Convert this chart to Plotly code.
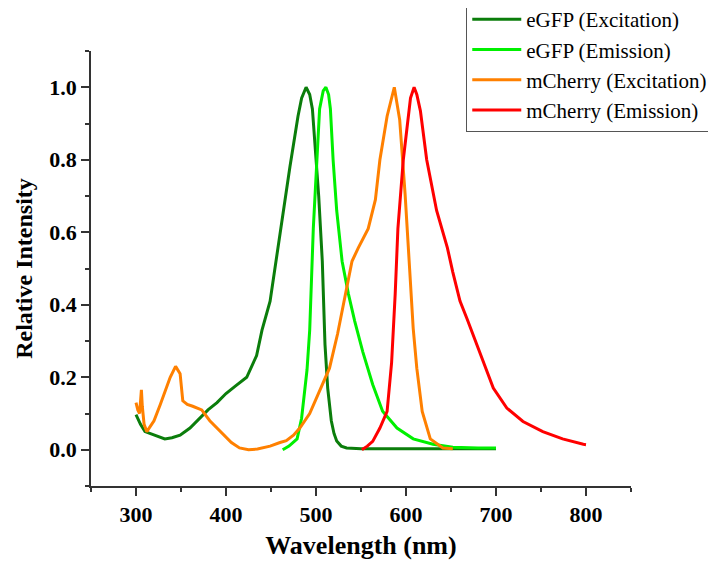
import plotly.graph_objects as go

# eGFP excitation
egfp_ex_wl = [300, 305, 310, 320, 332, 340, 349, 360, 371, 380, 390, 400, 410, 423, 434, 440, 449,
              460, 471, 480, 484, 489, 493, 496, 500, 503, 507, 510, 513, 517, 520, 523, 528, 534,
              550, 600, 650, 700]
egfp_ex_int = [0.097, 0.07, 0.05, 0.04, 0.03, 0.033, 0.04, 0.06, 0.087, 0.11, 0.13, 0.155, 0.175,
               0.2, 0.26, 0.33, 0.41, 0.60, 0.78, 0.92, 0.97, 1.0, 0.98, 0.94, 0.80, 0.70, 0.52,
               0.29, 0.17, 0.08, 0.045, 0.024, 0.01, 0.005, 0.003, 0.003, 0.003, 0.003]

# eGFP emission
egfp_em_wl = [463, 470, 479, 484, 490, 493, 497, 501, 504, 508, 511, 514, 516, 519, 523, 529, 536,
              543, 552, 563, 574, 590, 608, 630, 652, 680, 700]
egfp_em_int = [0.0, 0.01, 0.03, 0.087, 0.22, 0.33, 0.61, 0.80, 0.94, 0.99, 1.0, 0.98, 0.94, 0.80,
               0.66, 0.52, 0.43, 0.355, 0.27, 0.18, 0.106, 0.06, 0.03, 0.015, 0.007, 0.005, 0.005]

# mCherry excitation
mch_ex_wl = [300, 302, 304, 306, 307, 309, 312, 320, 327, 333, 338, 344, 349, 352, 357, 363, 373,
             382, 390, 397, 406, 415, 425, 435, 449, 460, 467, 475, 482, 493, 504, 515, 524, 534,
             540, 547, 558, 566, 571, 579, 587, 593, 599, 604, 608, 612, 618, 627, 641, 652]
mch_ex_int = [0.13, 0.11, 0.10, 0.165, 0.12, 0.07, 0.05, 0.08, 0.125, 0.165, 0.2, 0.23, 0.21, 0.135,
              0.125, 0.12, 0.11, 0.08, 0.06, 0.043, 0.02, 0.005, 0.0, 0.002, 0.01, 0.02, 0.025,
              0.04, 0.06, 0.1, 0.16, 0.225, 0.32, 0.45, 0.52, 0.557, 0.61, 0.69, 0.80, 0.92, 1.0,
              0.91, 0.705, 0.50, 0.335, 0.225, 0.106, 0.03, 0.005, 0.003]

# mCherry emission
mch_em_wl = [551, 557, 563, 571, 579, 584, 588, 591, 597, 602, 605, 609, 612, 616, 623, 634, 646,
             652, 660, 668, 674, 682, 686, 697, 712, 730, 752, 774, 797, 800]
mch_em_int = [0.0, 0.01, 0.023, 0.06, 0.106, 0.24, 0.43, 0.61, 0.80, 0.91, 0.97, 1.0, 0.98, 0.935,
              0.80, 0.66, 0.557, 0.49, 0.41, 0.36, 0.32, 0.27, 0.245, 0.17, 0.115, 0.078, 0.05,
              0.03, 0.015, 0.014]

series = [
    ("eGFP (Excitation)", egfp_ex_wl, egfp_ex_int, "#0b7d0b"),
    ("eGFP (Emission)", egfp_em_wl, egfp_em_int, "#00f000"),
    ("mCherry (Excitation)", mch_ex_wl, mch_ex_int, "#ff8000"),
    ("mCherry (Emission)", mch_em_wl, mch_em_int, "#ff0000"),
]

x_ticks = [300, 400, 500, 600, 700, 800]
y_ticks = [0.0, 0.2, 0.4, 0.6, 0.8, 1.0]
y_ticktext = ["0.0", "0.2", "0.4", "0.6", "0.8", "1.0"]

SERIF = "Liberation Serif, Times New Roman, serif"

fig = go.Figure()
for name, xs, ys, col in series:
    fig.add_trace(go.Scatter(x=xs, y=ys, mode="lines", name=name,
                             line=dict(color=col, width=3)))

# page body has an 8px margin, so the figure is 8px smaller and offsets are reduced by 8
fig.update_layout(
    width=708, height=553,
    paper_bgcolor="white", plot_bgcolor="white",
    margin=dict(l=83, r=85, t=43, b=75, autoexpand=False),
    font=dict(family=SERIF, color="black"),
    legend=dict(x=0.694, y=1.123, xanchor="left", yanchor="top",
                bgcolor="white", bordercolor="#555555", borderwidth=1.5,
                font=dict(family=SERIF, size=21, color="black"),
                tracegroupgap=0, itemwidth=49),
    showlegend=True,
)

fig.update_xaxes(
    range=[250, 850], tickvals=x_ticks, ticks="outside", ticklen=8, tickwidth=1.5,
    tickcolor="#333333", showline=True, linecolor="#333333", linewidth=1.5,
    showgrid=False, zeroline=False,
    tickfont=dict(family=SERIF, size=22, color="black", weight="bold"),
    minor=dict(tickvals=[250, 350, 450, 550, 650, 750, 850], ticks="outside", ticklen=4,
               tickwidth=1.5, tickcolor="#333333", showgrid=False),
    title=dict(text="Wavelength (nm)", font=dict(family=SERIF, size=26, color="black", weight="bold"),
               standoff=10),
)
fig.update_yaxes(
    range=[-0.1, 1.1], tickvals=y_ticks, ticktext=y_ticktext, ticks="outside", ticklen=8,
    tickwidth=1.5, tickcolor="#333333", showline=True, linecolor="#333333", linewidth=1.5,
    showgrid=False, zeroline=False,
    tickfont=dict(family=SERIF, size=22, color="black", weight="bold"),
    minor=dict(tickvals=[-0.1, 0.1, 0.3, 0.5, 0.7, 0.9, 1.1], ticks="outside", ticklen=4,
               tickwidth=1.5, tickcolor="#333333", showgrid=False),
    title=dict(text="Relative Intensity", font=dict(family=SERIF, size=24, color="black", weight="bold"),
               standoff=10),
)

fig.write_html("out.html")
